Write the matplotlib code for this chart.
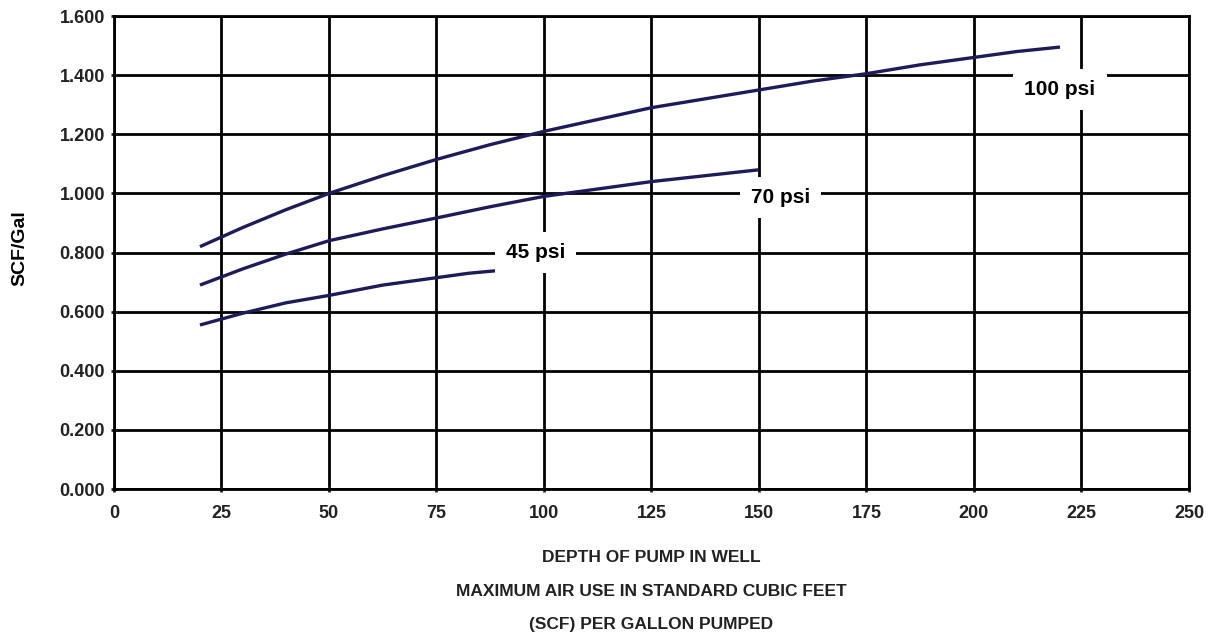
import matplotlib.pyplot as plt

plt.rcParams['font.family'] = ['Liberation Sans', 'DejaVu Sans']
plt.rcParams['font.weight'] = 'bold'

# depth of pump (ft) and air use (SCF/Gal)
depth_100 = [20, 30, 40, 50, 62.5, 75, 87.5, 100, 112.5, 125, 137.5, 150, 162.5, 175, 187.5, 200, 210, 220]
scf_100 = [0.82, 0.885, 0.945, 1.00, 1.06, 1.115, 1.165, 1.21, 1.25, 1.29, 1.32, 1.35, 1.38, 1.405, 1.435, 1.46, 1.48, 1.495]

depth_70 = [20, 30, 40, 50, 62.5, 75, 87.5, 100, 112.5, 125, 137.5, 150]
scf_70 = [0.69, 0.745, 0.795, 0.84, 0.88, 0.917, 0.955, 0.99, 1.015, 1.04, 1.06, 1.08]

depth_45 = [20, 30, 40, 50, 62.5, 75, 82.5, 90]
scf_45 = [0.555, 0.595, 0.63, 0.655, 0.69, 0.715, 0.73, 0.74]

labels = ["100 psi", "70 psi", "45 psi"]
label_pos = [(220, 1.35), (155, 0.985), (98, 0.80)]

xticks = [0, 25, 50, 75, 100, 125, 150, 175, 200, 225, 250]
yticks = [0.0, 0.2, 0.4, 0.6, 0.8, 1.0, 1.2, 1.4, 1.6]

fig = plt.figure(figsize=(12.15, 6.41), dpi=100)
ax = fig.add_axes([0.0938, 0.237, 0.8848, 0.738])

line_color = '#1c1c5a'
for xs, ys in [(depth_100, scf_100), (depth_70, scf_70), (depth_45, scf_45)]:
    ax.plot(xs, ys, color=line_color, lw=2.4, zorder=3, solid_capstyle='butt')

for txt, (x, y) in zip(labels, label_pos):
    ax.text(x, y, txt, ha='center', va='center', fontsize=15, fontweight='heavy',
            bbox=dict(facecolor='white', edgecolor='none', pad=8), zorder=4)

ax.set_xlim(0, 250)
ax.set_ylim(0, 1.6)
ax.set_xticks(xticks)
ax.set_yticks(yticks)
ax.set_yticklabels([f"{v:.3f}" for v in yticks])
ax.grid(True, color='black', lw=2)
ax.set_axisbelow(True)
for s in ax.spines.values():
    s.set_linewidth(2)
ax.tick_params(axis='both', labelsize=13, width=2, length=5, direction='inout', colors='#222222')
ax.tick_params(axis='x', pad=9)
ax.tick_params(axis='y', pad=4)

ax.set_ylabel("SCF/Gal", fontsize=14, fontweight='heavy')
ax.yaxis.set_label_coords(-0.080, 0.51)

xmid = 0.0938 + 0.8848 / 2
fig.text(xmid, 1 - 557 / 641, "DEPTH OF PUMP IN WELL", ha='center', va='center', fontsize=12.5, color='#222222')
fig.text(xmid, 1 - 591 / 641, "MAXIMUM AIR USE IN STANDARD CUBIC FEET", ha='center', va='center', fontsize=12.5, color='#222222')
fig.text(xmid, 1 - 624 / 641, "(SCF) PER GALLON PUMPED", ha='center', va='center', fontsize=12.5, color='#222222')

fig.savefig("out.png", dpi=100)
